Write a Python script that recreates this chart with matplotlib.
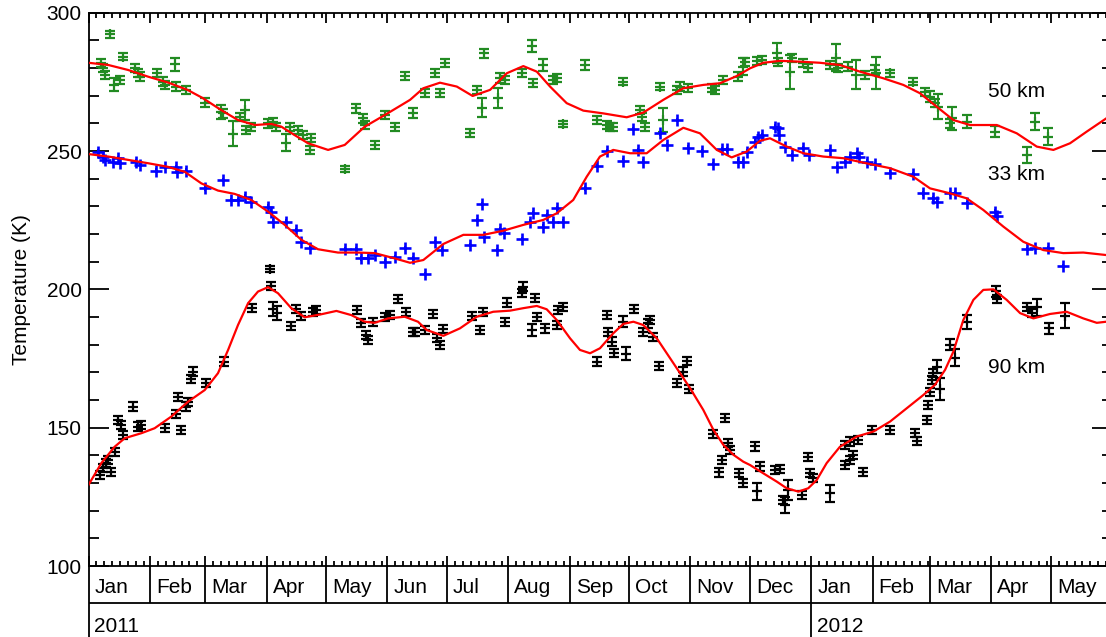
import numpy as np
import matplotlib
matplotlib.use("Agg")
import matplotlib.pyplot as plt
import matplotlib.transforms as mtransforms

# x values are days since 2011-01-01
green_day = [6.5, 7.3, 8.2, 10.7, 12.9, 15.7, 17.4, 23.3, 25.0, 25.8, 34.7, 37.6, 38.5, 43.8, 44.4,
             49.4, 58.7, 67.1, 67.9, 73.0, 76.4, 78.9, 79.7, 82.2, 90.7, 93.2, 94.9, 99.9, 101.6,
             105.8, 108.3, 111.7, 112.5, 129.4, 135.3, 138.6, 139.5, 144.5, 149.6, 154.6, 159.7,
             163.9, 170.0, 175.0, 177.5, 180.1, 192.7, 196.1, 198.6, 199.7, 207.0, 207.8, 210.4,
             218.8, 223.8, 224.6, 229.7, 234.7, 236.5, 239.8, 250.8, 256.7, 261.7, 263.4, 265.0,
             269.8, 278.5, 279.4, 281.1, 288.6, 290.3, 297.1, 298.7, 302.9, 314.7, 316.4, 320.6,
             328.2, 330.7, 331.6, 337.5, 340.0, 347.6, 348.4, 354.3, 355.1, 361.0, 363.5, 374.5,
             377.5, 378.7, 383.7, 387.6, 392.2, 397.2, 397.8, 404.8, 416.6, 422.5, 425.0, 427.5,
             429.2, 435.1, 436.0, 443.5, 457.8, 473.8, 478.0, 484.7]
green_temp = [281.7, 279.9, 277.5, 292.2, 274.0, 275.7, 284.1, 279.9, 278.1, 276.9, 278.1, 275.1, 273.9,
              281.3, 273.3, 272.1, 267.5, 264.1, 263.6, 256.2, 262.4, 264.8, 257.6, 258.8, 260.0,
              260.6, 258.8, 253.0, 258.8, 257.6, 255.8, 250.4, 254.6, 243.5, 265.4, 261.8, 259.4,
              252.2, 263.0, 258.6, 277.1, 263.6, 271.1, 278.1, 270.9, 281.7, 256.4, 272.1, 265.7,
              285.3, 269.2, 276.3, 275.7, 278.1, 287.9, 274.5, 281.1, 275.7, 276.3, 259.8, 281.1,
              261.2, 259.4, 258.8, 258.8, 275.1, 264.8, 262.4, 258.8, 273.3, 261.2, 272.1, 273.3,
              272.7, 272.7, 272.1, 275.7, 276.9, 280.5, 282.3, 282.6, 282.9, 285.3, 282.3, 278.6,
              283.5, 281.7, 279.9, 281.1, 283.8, 279.9, 280.5, 277.6, 277.5, 279.3, 278.1, 278.1,
              275.1, 271.4, 269.6, 267.3, 266.0, 260.0, 261.8, 260.6, 257.0, 248.6, 260.6, 255.2]
green_err = [1.5, 1.5, 1.5, 1.2, 2.3, 1.5, 1.2, 1.5, 1.5, 1.5, 1.5, 1.5, 1.5, 2.3, 1.5,
             1.5, 1.5, 2.5, 1.5, 4.5, 1.5, 3.6, 1.5, 1.5, 1.5, 1.5, 1.5, 3.0, 1.5,
             1.5, 1.5, 1.5, 1.5, 1.2, 1.5, 1.5, 1.5, 1.5, 1.5, 1.5, 1.5,
             1.8, 1.5, 1.5, 1.5, 1.5, 1.5, 1.5, 3.4, 1.5, 3.6, 1.8, 1.5,
             1.5, 2.1, 1.5, 2.1, 1.5, 1.5, 1.2, 1.8, 1.5, 1.5, 1.5, 1.5,
             1.2, 1.5, 1.5, 1.5, 1.2, 4.2, 1.5, 1.5, 1.5, 1.5, 1.5, 1.5,
             1.5, 3.0, 1.5, 1.5, 1.5, 3.6, 1.5, 6.0, 1.5, 1.5, 1.5, 1.5,
             5.0, 1.5, 1.5, 5.3, 1.5, 1.8, 5.8, 1.2, 1.2, 1.5, 2.0, 1.5,
             4.5, 1.5, 4.2, 2.4, 2.0, 3.0, 3.0, 3.0]

blue_day = [4.8, 7.3, 8.2, 12.4, 14.9, 15.7, 24.1, 25.8, 34.2, 38.5, 44.4, 44.6, 49.4, 58.7, 67.9,
            72.1, 75.5, 78.9, 82.2, 90.7, 92.3, 93.2, 99.9, 105.0, 107.5, 111.7, 129.4, 135.3,
            137.8, 141.2, 144.5, 149.6, 154.6, 159.8, 164.0, 170.0, 175.0, 178.4, 192.7, 196.1,
            198.6, 199.7, 206.5, 207.8, 209.8, 218.8, 223.0, 224.6, 229.7, 231.4, 234.7, 236.5,
            239.8, 250.8, 256.7, 261.7, 269.8, 275.2, 277.7, 279.9, 288.6, 292.0, 297.1, 302.9,
            309.7, 315.6, 319.8, 322.3, 328.2, 330.7, 332.4, 336.6, 338.3, 340.0, 346.7, 348.4,
            348.9, 351.8, 355.1, 361.0, 364.0, 374.5, 377.9, 382.0, 384.6, 388.0, 389.0, 393.0,
            397.2, 404.8, 416.6, 421.6, 426.7, 428.4, 435.1, 437.6, 443.5, 457.8, 458.7, 473.8,
            478.0, 484.7, 492.3]
blue_temp = [249.8, 248.0, 246.9, 246.2, 247.4, 245.6, 246.2, 245.0, 242.9, 244.3, 244.3, 242.5, 242.9,
             236.5, 239.5, 232.3, 232.3, 233.5, 231.7, 229.9, 228.1, 224.5, 224.5, 221.5, 217.2,
             214.9, 214.5, 214.5, 211.2, 211.5, 212.4, 210.0, 211.6, 214.9, 211.2, 205.5, 217.2,
             214.2, 216.0, 225.1, 230.9, 219.1, 214.2, 221.7, 220.3, 218.1, 224.5, 227.7, 222.7,
             226.9, 224.5, 229.3, 224.5, 236.5, 244.6, 250.1, 246.5, 257.9, 250.4, 246.2, 256.4,
             252.2, 261.2, 251.2, 250.0, 245.3, 250.6, 250.6, 246.2, 246.2, 249.8, 253.4, 255.2,
             255.8, 258.8, 258.2, 255.8, 251.6, 248.6, 251.0, 248.6, 250.4, 244.3, 246.2, 248.0,
             249.2, 248.0, 246.2, 245.3, 242.2, 241.7, 234.7, 232.9, 231.7, 234.7, 234.7, 231.3,
             228.1, 226.5, 214.5, 214.9, 214.9, 208.4]
blue_err = [0.8] * len(blue_day)

black_day = [5.7, 7.3, 9.0, 9.8, 11.5, 13.2, 14.9, 16.6, 17.4, 22.5, 25.0, 26.7, 38.5, 44.4, 45.2,
             46.6, 49.4, 50.3, 51.9, 52.8, 59.5, 68.4, 82.6, 91.5, 92.0, 93.2, 95.4, 102.4, 105.0,
             107.5, 113.4, 115.0, 135.8, 137.8, 140.3, 141.2, 143.7, 149.6, 152.1, 156.3, 160.5,
             163.9, 164.9, 170.0, 174.1, 175.9, 177.5, 179.2, 193.5, 197.7, 199.4, 210.4, 211.2,
             218.8, 219.3, 223.8, 225.5, 226.4, 230.6, 236.5, 237.3, 239.5, 256.7, 261.7, 262.5,
             264.2, 265.4, 270.1, 271.5, 275.5, 280.2, 282.7, 283.6, 285.3, 288.3, 297.1, 300.1,
             302.4, 303.4, 315.6, 318.6, 319.8, 321.5, 323.1, 324.0, 328.7, 330.7, 336.6, 337.5,
             339.1, 346.7, 349.2, 350.9, 351.8, 353.4, 360.2, 363.5, 364.4, 366.1, 374.5, 382.0,
             382.0, 384.6, 384.6, 386.3, 388.8, 391.3, 395.6, 404.8, 417.4, 418.3, 423.3, 424.1,
             425.0, 425.9, 426.7, 428.4, 430.1, 435.1, 437.6, 443.5, 458.3, 459.0, 473.8, 476.3,
             478.9, 485.3, 493.2]
black_temp = [132.9, 135.3, 137.2, 138.3, 134.1, 141.3, 152.8, 151.0, 147.4, 157.6, 150.4, 151.0, 150.0,
              155.0, 161.2, 149.2, 157.6, 159.4, 167.5, 170.3, 166.1, 173.9, 193.2, 207.3, 201.2,
              192.8, 191.4, 186.8, 192.8, 190.4, 191.9, 192.6, 192.6, 187.8, 183.5, 181.7, 188.3,
              190.1, 190.7, 196.4, 191.9, 184.7, 184.7, 185.3, 191.1, 182.3, 179.9, 185.6, 190.4,
              185.3, 191.9, 188.3, 195.2, 198.6, 201.0, 185.3, 196.8, 190.1, 185.9, 187.1, 192.6,
              193.7, 173.9, 190.7, 184.7, 181.1, 176.9, 188.3, 176.8, 192.8, 184.7, 187.7, 188.9,
              182.9, 172.3, 166.1, 170.3, 174.2, 163.9, 147.7, 133.8, 138.3, 153.4, 144.4, 142.0,
              133.5, 129.9, 143.2, 127.0, 136.0, 134.7, 135.0, 123.9, 122.0, 127.5, 125.7, 139.5,
              133.5, 131.7, 126.3, 143.8, 136.5, 145.0, 138.3, 140.2, 145.6, 134.1, 149.2, 149.2,
              148.2, 145.3, 152.8, 158.2, 163.0, 167.3, 169.7, 172.1, 164.0, 179.9, 175.3, 188.3,
              199.3, 196.4, 193.7, 191.4, 193.5, 185.9, 190.4]
black_err = [1.5, 1.5, 1.5, 1.5, 1.5, 1.5, 1.5, 1.5, 1.5, 1.5, 1.5, 1.5, 1.5, 1.5, 1.5,
             1.5, 1.5, 1.5, 1.5, 1.5, 1.5, 1.5, 1.5, 1.2, 1.5, 2.5, 2.5, 1.5, 1.5,
             1.5, 1.5, 1.5, 1.5, 1.5, 1.5, 1.5, 1.5, 1.5, 1.5, 1.5, 1.5,
             1.5, 1.5, 1.5, 1.5, 1.5, 1.5, 1.5, 1.5, 1.5, 1.5, 1.5, 1.5,
             1.5, 1.5, 2.0, 1.5, 1.5, 1.5, 1.5, 1.5, 1.5, 1.5, 1.5, 1.5,
             1.5, 1.5, 2.0, 2.5, 1.5, 1.5, 1.5, 1.5, 1.5, 1.5, 1.5, 1.5,
             1.5, 1.5, 1.5, 1.5, 1.5, 1.5, 1.5, 1.5, 1.5, 1.5, 1.5, 3.0,
             1.5, 1.5, 1.5, 1.5, 3.0, 3.5, 1.5, 1.5, 1.5, 1.5, 3.0, 1.5,
             1.5, 1.5, 1.5, 1.5, 1.5, 1.5, 1.5, 1.5, 1.5, 1.5, 1.5, 1.5,
             1.5, 1.5, 1.5, 2.5, 4.0, 2.0, 3.0, 2.5, 2.0, 1.5, 1.5, 1.5,
             3.0, 2.0, 4.5]

# red fitted curves
green_fit_day = [0, 10, 20, 30, 40, 50, 57.8, 67, 75.5, 84, 92.3, 97.4, 104, 110.9, 121, 129.4, 139.5,
                 149.6, 158, 162.4, 169.1, 177.5, 186, 194, 202.8, 211.2, 219.6, 226.4, 233.1, 241.5,
                 249.9, 260, 271.8, 280.2, 290.3, 300.4, 310.5, 318.9, 327.4, 334.1, 340.8, 349.2,
                 359.3, 369.4, 379.5, 389.6, 401.4, 411.5, 419.9, 428.4, 436.8, 445.2, 458.7, 468.8,
                 478.9, 487.3, 495.7, 504.1, 514]
green_fit_temp = [281.9, 281.1, 279.3, 276.9, 274.8, 272.1, 269.1, 264.8, 261.2, 259.4, 259.8, 258.8,
                  255.8, 252.8, 250.4, 252.2, 258.8, 263.0, 266.6, 268.5, 272.7, 274.7, 273.3, 269.9,
                  272.1, 278.1, 280.7, 278.7, 273.3, 267.3, 264.6, 263.6, 262.2, 263.9, 268.5, 272.7,
                  273.9, 274.5, 277.1, 279.9, 281.9, 282.6, 282.3, 281.9, 281.1, 278.7, 276.3, 273.9,
                  270.9, 266.0, 261.2, 259.4, 259.4, 256.4, 251.6, 250.4, 252.8, 257.0, 261.8]

blue_fit_day = [0, 10, 20, 30, 40, 48.6, 57, 65.4, 73.8, 82.2, 90.7, 99.1, 107.5, 115.9, 126, 136.1,
                144.5, 154.6, 162.4, 169.1, 179.2, 189.3, 199.4, 209.5, 219.6, 229.7, 236.5, 244.8,
                251.6, 258.3, 265, 273.5, 281.9, 290.3, 300.4, 308.8, 317.3, 324.8, 332.4, 339.1,
                344.2, 352.6, 361, 371.1, 381.2, 391.3, 404.8, 416.6, 425, 435.1, 443.5, 451.9,
                462, 472.1, 482.2, 492.3, 502.4, 514]
blue_fit_temp = [248.9, 248.0, 246.8, 245.6, 244.3, 242.5, 238.3, 235.7, 234.5, 232.3, 228.1, 223.3,
                 217.9, 214.5, 213.3, 213.3, 213.1, 211.2, 209.6, 210.6, 216.4, 219.7, 219.7, 221.2,
                 223.3, 225.1, 227.5, 232.3, 240.7, 248.0, 250.4, 249.2, 249.2, 254.0, 258.4, 256.4,
                 250.4, 247.7, 249.8, 253.7, 254.6, 251.6, 249.2, 248.0, 247.4, 245.8, 243.8, 240.7,
                 236.5, 234.7, 232.9, 228.7, 222.7, 217.2, 214.2, 213.1, 213.3, 212.4]

black_fit_day = [0, 6.5, 13.2, 18.3, 26.7, 33.4, 41.8, 50.3, 58.7, 65.4, 70.5, 75.5, 80.6, 85.6, 90.7,
                 95.7, 102.4, 109.2, 117.6, 125.2, 132.7, 139.5, 144.5, 151.3, 159.7, 166.4, 170.8,
                 179.2, 187.6, 196.1, 204.4, 212.9, 219.6, 226.4, 231.4, 236.5, 243.2, 248.2, 253.3,
                 258.3, 265, 270.1, 275.2, 280.2, 287, 295.4, 303.8, 310.5, 315.6, 320.6, 325.7,
                 330.7, 334.1, 340.8, 347.6, 352.6, 358.5, 363.5, 367.8, 372.8, 379.5, 388, 396.4,
                 404.8, 413.2, 421.6, 427.5, 432.6, 436.8, 441.8, 446.9, 451.9, 457, 463.7, 470.5,
                 477.2, 485.6, 494, 502.4, 509.2, 514]
black_fit_temp = [129.3, 137.2, 143.1, 146.2, 148.0, 149.8, 154.0, 159.4, 163.6, 169.7, 178.1, 187.1,
                  195.0, 199.2, 200.8, 198.6, 193.2, 189.9, 191.0, 192.2, 190.7, 188.3, 187.9, 189.5,
                  190.1, 188.3, 185.3, 183.2, 185.9, 190.1, 191.9, 192.3, 193.2, 194.0, 192.8, 188.9,
                  182.3, 178.1, 176.9, 178.7, 184.1, 187.5, 188.3, 187.1, 182.3, 173.3, 164.3, 156.4,
                  149.2, 143.8, 140.2, 137.7, 136.5, 133.5, 130.5, 128.1, 126.9, 128.1, 131.1, 137.2,
                  143.1, 146.8, 148.6, 152.2, 157.0, 161.8, 165.5, 170.9, 177.5, 188.9, 196.2, 199.8,
                  200.0, 196.2, 191.4, 189.5, 191.1, 191.9, 189.5, 187.9, 188.3]

series_labels = ["50 km", "33 km", "90 km"]
label_day = [454.3, 454.3, 454.3]
label_temp = [269.5, 239.5, 169.7]

month_labels = ["Jan", "Feb", "Mar", "Apr", "May", "Jun", "Jul", "Aug", "Sep", "Oct", "Nov", "Dec",
                "Jan", "Feb", "Mar", "Apr", "May"]
year_labels = ["2011", "2012"]

plt.rcParams["font.family"] = ["Liberation Sans", "DejaVu Sans"]
FS = 15

fig = plt.figure(figsize=(11.06, 6.37), dpi=100)
ax = fig.add_axes([88.5 / 1106, 71 / 637, 1023.7 / 1106, 553.3 / 637])

ax.errorbar(green_day, green_temp, yerr=green_err, fmt="+", color="#228b22", ms=7.5, mew=1.6,
            elinewidth=1.4, capsize=3.6, capthick=1.5)
ax.errorbar(blue_day, blue_temp, yerr=blue_err, fmt="+", color="#0000ff", ms=8, mew=1.9,
            elinewidth=1.4, capsize=0)
ax.errorbar(black_day, black_temp, yerr=black_err, fmt="+", color="black", ms=7.5, mew=1.6,
            elinewidth=1.4, capsize=3.6, capthick=1.5)
for fd, ft in [(green_fit_day, green_fit_temp), (blue_fit_day, blue_fit_temp),
               (black_fit_day, black_fit_temp)]:
    ax.plot(fd, ft, color="red", lw=1.6, zorder=5)

for lab, d, t in zip(series_labels, label_day, label_temp):
    ax.text(d, t, lab, fontsize=FS, ha="left", va="baseline")

# month boundaries
t0 = np.datetime64("2011-01-01")
months = np.arange(np.datetime64("2011-01"), np.datetime64("2012-07"), dtype="datetime64[M]")
mdays = (months.astype("datetime64[D]") - t0).astype(int)
minor = []
for a, b in zip(mdays[:-1], mdays[1:]):
    minor += [a + k for k in range(4, 29, 4) if a + k < b]

ax.set_xlim(0, mdays[-1])
ax.set_ylim(100, 300)
ax.set_xticks(mdays)
ax.set_xticks(minor, minor=True)
ax.set_yticks(np.arange(100, 301, 50))
ax.set_yticks(np.arange(100, 301, 10), minor=True)
ax.tick_params(axis="x", which="both", direction="in", top=True, labelbottom=False, width=1.3)
ax.tick_params(axis="x", which="major", length=7.2)
ax.tick_params(axis="x", which="minor", length=3.6)
ax.tick_params(axis="y", which="both", direction="in", right=True, width=1.3, labelsize=FS, pad=5)
ax.tick_params(axis="y", which="major", length=14.4)
ax.tick_params(axis="y", which="minor", length=7.2)
for s in ax.spines.values():
    s.set_linewidth(1.3)

ax.set_ylabel("Temperature (K)", fontsize=FS)
ax.yaxis.set_label_coords(-0.056, 0.5)

# two-row date axis below the plot
trans = mtransforms.blended_transform_factory(ax.transData, ax.transAxes)
row1 = -37 / 553.3
row2 = -0.2
kw = dict(color="black", lw=1.3, transform=trans, clip_on=False, solid_capstyle="butt")
ax.plot([0, mdays[-1]], [row1, row1], **kw)
ax.plot([0, 0], [0, row2], **kw)
for d in mdays[1:]:
    ax.plot([d, d], [0, row1], **kw)
for d, lab in zip(mdays[:-1], month_labels):
    ax.annotate(lab, xy=(d, -0.0488), xycoords=trans, xytext=(4.3, 0), textcoords="offset points",
                fontsize=FS, ha="left", va="baseline", annotation_clip=False)
jan12 = mdays[12]
ax.plot([jan12, jan12], [row1, row2], **kw)
for d, lab in zip([mdays[0], jan12], year_labels):
    ax.annotate(lab, xy=(d, -0.1193), xycoords=trans, xytext=(4.3, 0), textcoords="offset points",
                fontsize=FS, ha="left", va="baseline", annotation_clip=False)

fig.savefig("out.png", dpi=100)
